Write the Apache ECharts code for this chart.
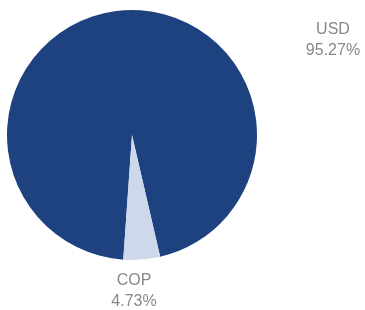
<!DOCTYPE html>
<html>
<head>
<meta charset="utf-8">
<script src="https://cdn.jsdelivr.net/npm/echarts@6/dist/echarts.min.js"></script>
<style>
	html, body { margin: 0; padding: 0; background: #fff; }
	#main { width: 365px; height: 310px; }
</style>
</head>
<body>
<div id="main"></div>
<script>
	var currencies = ['USD', 'COP'];
	var shares = [95.27, 4.73];
	var colors = ['#1e4280', '#cdd8ea'];

	// label spots, one per slice (USD top right, COP under the pie)
	var labelSpots = [[333, 40], [134, 291]];

	var pieData = [];
	for (var i = 0; i < currencies.length; i++) {
		pieData.push({ name: currencies[i], value: shares[i] });
	}

	var chart = echarts.init(document.getElementById('main'));
	chart.setOption({
		animation: false,
		color: colors,
		series: [{
			type: 'pie',
			center: [132, 135],
			radius: 125,
			startAngle: 266,
			clockwise: true,
			data: pieData,
			itemStyle: { borderWidth: 0 },
			label: {
				show: true,
				position: 'outside',
				formatter: function (p) {
					return p.name + '\n' + p.value.toFixed(2) + '%';
				},
				color: '#888888',
				fontFamily: 'Liberation Sans, Arial, sans-serif',
				fontSize: 16,
				lineHeight: 21,
				align: 'center'
			},
			labelLine: { show: false },
			labelLayout: function (params) {
				var s = labelSpots[params.dataIndex];
				return { x: s[0], y: s[1], align: 'center', verticalAlign: 'middle' };
			}
		}]
	});
</script>
</body>
</html>
